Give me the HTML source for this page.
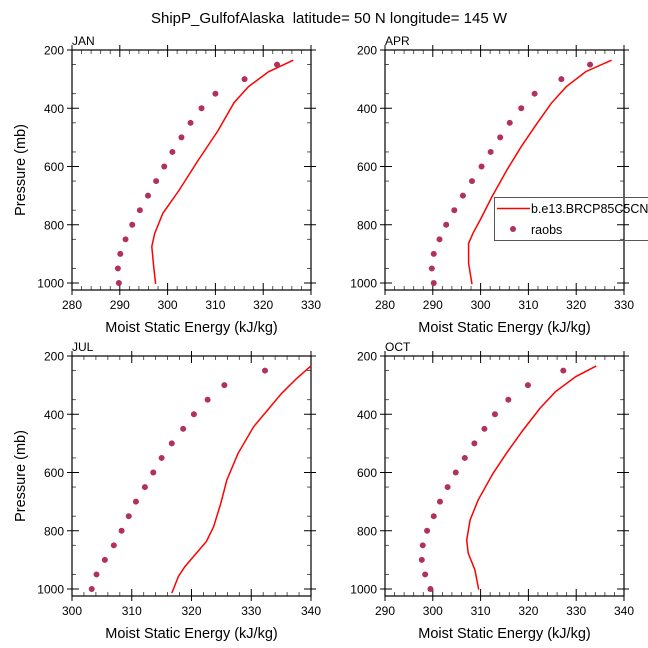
<!DOCTYPE html>
<html><head><meta charset="utf-8"><style>
body{margin:0;background:#fff}
svg{display:block;font-family:"Liberation Sans",sans-serif}
</style></head><body>
<svg id="c" width="648" height="648" viewBox="0 0 648 648" xmlns="http://www.w3.org/2000/svg">
<text x="329" y="23" font-size="15" text-anchor="middle" style="white-space:pre">ShipP_GulfofAlaska  latitude= 50 N longitude= 145 W</text>
<g id="plots"></g>
<g>
<rect x="494.5" y="197.5" width="160" height="43" fill="none" stroke="#555" stroke-width="1"/>
<line x1="497" y1="208.5" x2="530" y2="208.5" stroke="#ff0000" stroke-width="1.5"/>
<text x="531" y="213" font-size="12.5">b.e13.BRCP85C5CN</text>
<circle cx="513" cy="229" r="3" fill="#b0305f"/>
<text x="531" y="234" font-size="12.5">raobs</text>
</g>
</svg>
<script>
const obsP=[250,300,350,400,450,500,550,600,650,700,750,800,850,900,950,1000];
const janObs=[322.9,316.1,310.0,307.1,304.8,302.9,301.0,299.3,297.6,295.9,294.2,292.6,291.2,290.1,289.6,289.8];
const aprObs=[322.9,316.9,311.3,308.5,306.1,304.1,302.1,300.2,298.2,296.3,294.5,292.8,291.4,290.2,289.8,290.2];
const julObs=[332.3,325.5,322.7,320.4,318.6,316.7,315.0,313.6,312.2,310.7,309.5,308.3,307.0,305.5,304.1,303.3];
const octObs=[327.3,319.9,315.8,313.0,310.8,308.7,306.7,304.8,303.1,301.5,300.2,298.8,297.9,297.7,298.4,299.5];
const janModP=[235,275,326,381,478,581,679,761,830,875,944,1003];
const janMod=[326.3,321.1,316.9,313.9,310.5,306.3,302.5,299.0,297.3,296.7,297.1,297.5];
const aprModP=[235,274,326,383,452,532,612,703,784,829,864,932,1004];
const aprMod=[327.4,322.0,317.9,314.8,311.8,308.5,305.5,302.4,299.9,298.4,297.5,297.5,298.2];
const julModP=[234,277,328,443,534,626,706,786,837,877,923,957,1014];
const julMod=[340,337.6,335.1,330.4,327.8,325.9,324.9,323.7,322.5,320.8,318.9,317.8,316.7];
const octModP=[234,271,322,380,454,534,603,694,763,832,877,934,1002];
const octMod=[334.2,329.9,325.7,322.4,318.9,315.4,312.6,309.5,307.8,307.1,307.4,308.8,309.6];
const yTicks=[200,400,600,800,1000];
const panels=[
 {name:'jan',label:'JAN',x0:72,y0:50,xmin:280,xmax:330,obs:janObs,mp:janModP,m:janMod,ylab:true},
 {name:'apr',label:'APR',x0:385,y0:50,xmin:280,xmax:330,obs:aprObs,mp:aprModP,m:aprMod,ylab:false},
 {name:'jul',label:'JUL',x0:72,y0:356,xmin:300,xmax:340,obs:julObs,mp:julModP,m:julMod,ylab:true},
 {name:'oct',label:'OCT',x0:385,y0:356,xmin:290,xmax:340,obs:octObs,mp:octModP,m:octMod,ylab:false}
];
const NS='http://www.w3.org/2000/svg';
const root=document.getElementById('plots');
function mk(tag,attrs,parent){const e=document.createElementNS(NS,tag);for(const k in attrs)e.setAttribute(k,attrs[k]);parent.appendChild(e);return e;}
const W=239,H=240;
panels.forEach(p=>{
 const g=mk('g',{},root);
 
 
 const sx=v=>p.x0+(v-p.xmin)/(p.xmax-p.xmin)*W;
 const sy=v=>p.y0+(v-200)*(233/800);
 const t=mk('text',{x:p.x0,y:p.y0-5,'font-size':12},g);t.textContent=p.label;
 
 
 for(let v=250;v<=1000;v+=100){const y=sy(v);
  mk('line',{x1:p.x0,y1:y,x2:p.x0+4,y2:y,stroke:'#333','stroke-width':0.8},g);
  mk('line',{x1:p.x0+W,y1:y,x2:p.x0+W-4,y2:y,stroke:'#333','stroke-width':0.8},g);}
 yTicks.forEach(v=>{const y=sy(v);
  mk('line',{x1:p.x0-5,y1:y,x2:p.x0+7,y2:y,stroke:'#000','stroke-width':1},g);
  mk('line',{x1:p.x0+W+5,y1:y,x2:p.x0+W-7,y2:y,stroke:'#000','stroke-width':1},g);
  const l=mk('text',{x:p.x0-8,y:y+4.5,'font-size':12,'text-anchor':'end'},g);l.textContent=v;
  
  });
 for(let v=p.xmin;v<=p.xmax+0.001;v+=2){const x=sx(v);const major=(v%10===0);
  const yb=p.y0+H, yt=p.y0;
  mk('line',{x1:x,y1:yb+(major?5:0),x2:x,y2:yb-(major?7:4),stroke:major?'#000':'#333','stroke-width':major?1:0.8},g);
  mk('line',{x1:x,y1:yt-(major?5:0),x2:x,y2:yt+(major?7:4),stroke:major?'#000':'#333','stroke-width':major?1:0.8},g);
  if(major){const l=mk('text',{x:x,y:yb+19,'font-size':12,'text-anchor':'middle'},g);l.textContent=v;
   
   }}
 const fr=mk('rect',{x:p.x0,y:p.y0,width:W,height:H,fill:'none',stroke:'#000','stroke-width':1.2},g);
 
 
 const pts=p.m.map((v,i)=>sx(v).toFixed(1)+','+sy(p.mp[i]).toFixed(1)).join(' ');
 const pl=mk('polyline',{points:pts,fill:'none',stroke:'#ff0000','stroke-width':1.5},g);
 
 
 p.obs.forEach((v,i)=>{const c=mk('circle',{cx:sx(v),cy:sy(obsP[i]),r:3,fill:'#b0305f'},g);
  
  });
 const xt=mk('text',{x:p.x0+W/2,y:p.y0+H+42,'font-size':14.5,'text-anchor':'middle'},g);xt.textContent='Moist Static Energy (kJ/kg)';
 
 
 if(p.ylab){const yt=mk('text',{x:0,y:0,'font-size':14.5,'text-anchor':'middle',transform:'translate(25,'+(p.y0+H/2)+') rotate(-90)'},g);yt.textContent='Pressure (mb)';
  
  }
});
</script>
</body></html>
